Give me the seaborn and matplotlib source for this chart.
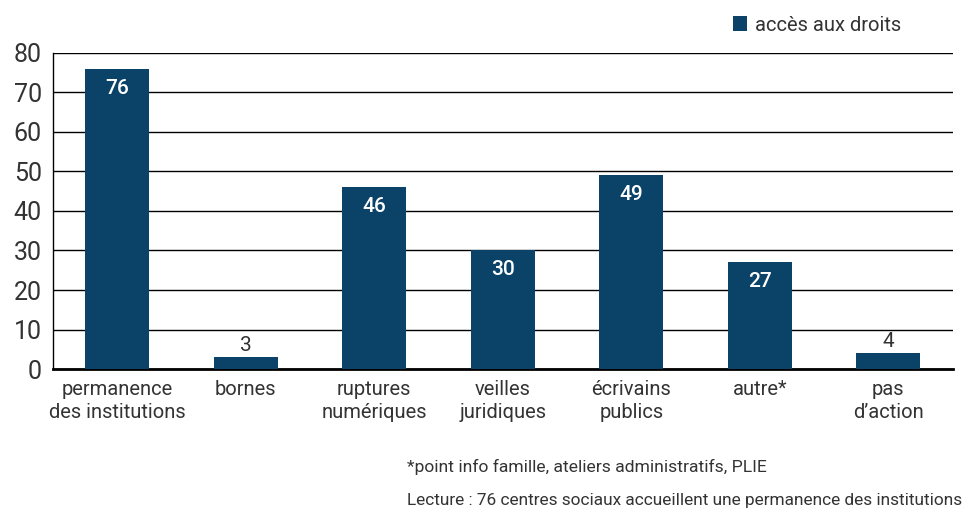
import pandas as pd
import numpy as np
import seaborn as sns
import matplotlib.pyplot as plt
from matplotlib.patches import Patch

categories = ["permanence\ndes institutions", "bornes", "ruptures\nnumériques",
              "veilles\njuridiques", "écrivains\npublics", "autre*", "pas\nd\u2019action"]
values = [76, 3, 46, 30, 49, 27, 4]
y_ticks = [0, 10, 20, 30, 40, 50, 60, 70, 80]
series_name = "accès aux droits"
footnote = "*point info famille, ateliers administratifs, PLIE"
reading = "Lecture : 76 centres sociaux accueillent une permanence des institutions"

bar_color = "#0a4268"
text_color = "#333333"

sns.set_theme(style="white")
plt.rcParams["font.family"] = ["Roboto", "DejaVu Sans"]

df = pd.DataFrame({"cat": categories, "val": values})

fig = plt.figure(figsize=(9.73, 5.09), dpi=100)
ax = fig.add_axes([0.0545, 0.275, 0.9245, 0.621])

sns.barplot(data=df, x="cat", y="val", color=bar_color, width=0.5,
            saturation=1, linewidth=0, edgecolor="none", ax=ax, zorder=3)

ax.set_ylim(0, 80)
ax.set_xlim(-0.5, len(categories) - 0.5)
ax.set_yticks(y_ticks)
ax.yaxis.grid(True, color="black", linewidth=1)
ax.set_axisbelow(True)
ax.set_xlabel("")
ax.set_ylabel("")
ax.tick_params(axis="y", labelsize=18, colors=text_color, length=0, pad=8)
ax.tick_params(axis="x", labelsize=14.5, colors=text_color, length=0, pad=8)
for lbl in ax.get_xticklabels():
    lbl.set_linespacing(1.25)
for s in ["top", "right"]:
    ax.spines[s].set_visible(False)
ax.spines["left"].set_color("black")
ax.spines["left"].set_linewidth(1)
ax.spines["bottom"].set_color("black")
ax.spines["bottom"].set_linewidth(2)

for i, v in enumerate(values):
    if v > 10:
        ax.text(i, v - 2.5, str(v), ha="center", va="top", color="white",
                fontsize=15, fontweight="medium", zorder=4)
    else:
        ax.text(i, v + 0.5, str(v), ha="center", va="bottom", color=text_color,
                fontsize=15, zorder=4)

fig.legend(handles=[Patch(facecolor=bar_color, edgecolor="none", label=series_name)],
           loc="upper right", bbox_to_anchor=(0.945, 1.005), frameon=False,
           fontsize=14.5, handlelength=0.7, handleheight=0.7, handletextpad=0.4,
           labelcolor=text_color)

fig.text(407 / 973, 1 - 467 / 509, footnote, fontsize=12.6, color=text_color, va="center")
fig.text(407 / 973, 1 - 500 / 509, reading, fontsize=12.4, color=text_color, va="center")

fig.savefig("out.png", dpi=100)
